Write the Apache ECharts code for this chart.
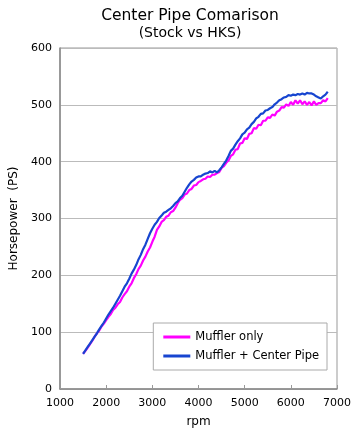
<!DOCTYPE html>
<html>
<head>
<meta charset="utf-8">
<script src="https://cdn.jsdelivr.net/npm/echarts@6/dist/echarts.min.js"></script>
<style>html,body{margin:0;padding:0;background:#fff;}#c{width:360px;height:440px;}</style>
</head>
<body>
<div id="c"></div>
<script>
const rpm = [1500,1550,1600,1650,1700,1750,1800,1850,1900,1950,2000,2050,2100,2150,2200,2250,2300,2350,2400,2450,2500,2550,2600,2650,2700,2750,2800,2850,2900,2950,3000,3050,3100,3150,3200,3250,3300,3350,3400,3450,3500,3550,3600,3650,3700,3750,3800,3850,3900,3950,4000,4050,4100,4150,4200,4250,4300,4350,4400,4450,4500,4550,4600,4650,4700,4750,4800,4850,4900,4950,5000,5050,5100,5150,5200,5250,5300,5350,5400,5450,5500,5550,5600,5650,5700,5750,5800,5850,5900,5950,6000,6050,6100,6150,6200,6250,6300,6350,6400,6450,6500,6550,6600,6650,6700,6750,6800];
const mufflerOnly = [62,67,73,79,85,92,98,103,110,115,121,127,132,139,143,149,153,161,167,172,180,186,195,202,211,217,226,233,242,249,259,268,280,286,294,297,303,305,311,313,319,327,333,336,342,344,350,352,358,359,364,366,369,370,374,373,377,377,380,382,389,392,398,402,410,413,421,422,432,433,441,440,449,450,459,458,465,464,472,472,478,477,483,481,488,490,496,495,501,498,505,500,508,502,508,501,506,500,505,499,506,500,503,503,508,506,512];
const mufflerCenter = [62,68,74,80,86,92,98,105,111,117,124,131,137,143,150,157,164,172,180,186,194,203,210,218,228,236,246,254,264,274,282,289,294,301,305,310,312,315,318,322,327,330,336,340,347,354,360,365,368,372,374,374,377,379,380,383,381,384,381,385,390,396,402,410,419,423,430,436,441,448,451,457,460,466,470,476,479,484,485,490,491,494,496,501,504,508,510,513,514,517,516,518,517,519,518,520,518,521,520,520,518,515,513,511,515,518,523];
const seriesNames = ['Muffler only','Muffler + Center Pipe'];

const FONT = 'DejaVu Sans';
const chart = echarts.init(document.getElementById('c'), null, {renderer:'canvas'});
chart.setOption({
  animation:false,
  backgroundColor:'#fff',
  textStyle:{fontFamily:FONT},
  title:{
    text:'Center Pipe Comarison',
    subtext:'(Stock vs HKS)',
    left:185, top:3, textAlign:'center', itemGap:2,
    textStyle:{fontFamily:FONT,fontSize:15.5,fontWeight:'normal',color:'#000'},
    subtextStyle:{fontFamily:FONT,fontSize:14,color:'#000'}
  },
  grid:{left:60,right:23,top:48,bottom:51,show:true,borderColor:'#999',borderWidth:1,backgroundColor:'transparent'},
  legend:{
    orient:'vertical', right:33, top:323,
    backgroundColor:'#fff', borderColor:'#aaa', borderWidth:1,
    padding:[8,8,8,10], itemGap:7,
    icon:'rect', itemWidth:27, itemHeight:3,
    textStyle:{fontFamily:FONT,fontSize:11.5,color:'#000'},
    data:seriesNames
  },
  xAxis:{
    type:'value', min:1000, max:7000, interval:1000,
    name:'rpm', nameLocation:'middle', nameGap:27,
    nameTextStyle:{fontFamily:FONT,fontSize:12,color:'#000'},
    axisLine:{show:true,lineStyle:{color:'#888',width:1.5}},
    axisTick:{show:true,inside:true,length:4,lineStyle:{color:'#999'}},
    axisLabel:{fontFamily:FONT,fontSize:11,color:'#000',margin:9,formatter:v=>String(v)},
    splitLine:{show:false}
  },
  yAxis:{
    type:'value', min:0, max:600, interval:100,
    name:'Horsepower  (PS)', nameLocation:'middle', nameGap:37,
    nameTextStyle:{fontFamily:FONT,fontSize:12,color:'#000'},
    axisLine:{show:true,lineStyle:{color:'#888',width:1.5}},
    axisTick:{show:false},
    axisLabel:{fontFamily:FONT,fontSize:11,color:'#000',margin:8},
    splitLine:{show:true,lineStyle:{color:'#bbb',width:1}}
  },
  series:[
    {name:seriesNames[0], type:'line', showSymbol:false, symbol:'none',
     data:rpm.map((r,i)=>[r,mufflerOnly[i]]),
     lineStyle:{color:'#ff00ff',width:2.2}, itemStyle:{color:'#ff00ff'}, z:2},
    {name:seriesNames[1], type:'line', showSymbol:false, symbol:'none',
     data:rpm.map((r,i)=>[r,mufflerCenter[i]]),
     lineStyle:{color:'#1745d0',width:2.2}, itemStyle:{color:'#1745d0'}, z:3}
  ]
});
</script>
</body>
</html>
